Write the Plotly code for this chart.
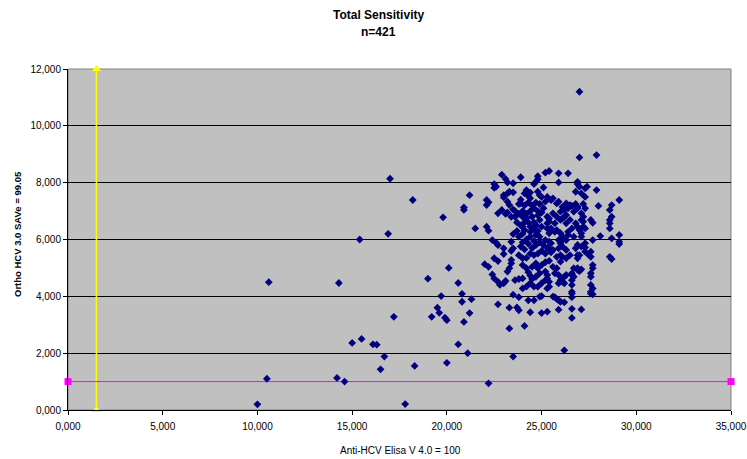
import plotly.graph_objects as go

# ---- data (x: Anti-HCV Elisa V 4.0, y: Ortho HCV 3.0 SAVe) ----
outliers = [
    (10.0, 0.2), (10.5, 1.1), (10.6, 4.5), (14.2, 1.13), (14.3, 4.47), (14.6, 1.0),
    (15.0, 2.36), (15.5, 2.5), (15.4, 6.0), (16.1, 2.31), (16.3, 2.3), (16.7, 1.88),
    (16.5, 1.43), (16.9, 6.2), (17.0, 8.14), (17.2, 3.28), (17.8, 0.21), (18.2, 7.39),
    (18.3, 1.55), (19.0, 4.62), (19.2, 3.28), (19.5, 3.6), (19.6, 3.42), (19.7, 4.01),
    (19.8, 6.78), (19.9, 3.25), (20.0, 3.16), (20.0, 1.66), (20.1, 5.0), (20.6, 4.47),
    (20.8, 4.09), (20.8, 3.81), (21.3, 3.9), (20.9, 3.1), (20.6, 2.31), (21.1, 2.0),
    (22.2, 0.94), (23.5, 1.88), (26.2, 2.1), (21.2, 7.56), (20.9, 7.13), (20.9, 7.04),
    (21.5, 6.39), (21.2, 3.41), (27.0, 11.2), (27.0, 8.89), (27.9, 8.97),
]

cluster_low = [
    (22.7, 3.72), (23.3, 3.6), (23.7, 3.61), (23.8, 3.51), (24.4, 3.44), (25.0, 3.41),
    (25.3, 3.46), (25.9, 3.53), (26.6, 3.56), (27.1, 3.54), (26.6, 3.24), (23.3, 2.87),
    (24.1, 2.96), (23.5, 4.06), (23.8, 3.97), (24.3, 3.86), (24.6, 3.86), (24.9, 3.99),
    (25.0, 4.01), (25.7, 3.97), (25.9, 3.86), (26.2, 3.79), (26.0, 3.81), (25.8, 3.91),
    (25.6, 3.99), (26.6, 4.1), (26.6, 3.97), (27.6, 4.1), (27.7, 4.07), (27.6, 4.16),
    (27.7, 4.28), (27.6, 4.4), (22.7, 4.51), (22.8, 4.40), (23.0, 4.46), (24.0, 4.28),
    (24.2, 4.34), (24.4, 4.46), (24.6, 4.34), (24.8, 4.34), (25.0, 4.46), (25.4, 4.34),
    (25.3, 4.28), (25.4, 4.51), (26.6, 4.4), (26.6, 4.16), (26.2, 4.46), (25.9, 4.46),
    (26.1, 4.51),
]

cluster_mid = [
    (22.4, 4.77), (22.5, 4.63), (23.1, 4.54), (23.2, 4.87), (23.3, 4.99), (23.4, 5.16),
    (23.4, 5.28), (23.6, 4.57), (23.8, 4.61), (24.0, 4.63), (24.0, 5.34), (24.0, 5.1),
    (24.2, 4.99), (24.3, 4.85), (24.4, 4.73), (24.5, 4.61), (25.2, 4.57), (25.3, 4.75),
    (25.2, 4.87), (24.9, 4.81), (24.7, 4.69), (24.8, 4.99), (25.0, 5.1), (24.7, 5.16),
    (24.5, 5.04), (25.3, 4.63), (25.6, 5.04), (25.8, 4.99), (25.7, 4.81), (25.9, 4.75),
    (26.0, 4.57), (26.2, 4.69), (26.3, 4.75), (26.6, 4.75), (26.6, 4.57), (26.1, 5.39),
    (26.3, 5.34), (26.0, 5.22), (26.9, 5.34), (26.9, 4.99), (26.9, 4.93), (27.0, 4.89),
    (26.7, 4.99), (26.6, 4.81), (26.7, 4.69), (27.6, 5.39), (27.7, 5.1), (27.7, 4.99),
    (27.6, 4.81), (27.6, 4.69), (28.6, 5.39), (28.7, 5.31), (27.1, 5.75), (27.3, 5.72),
    (27.0, 5.45), (27.5, 5.45), (27.6, 5.57), (27.1, 4.95), (22.0, 5.13), (22.2, 5.04),
    (22.5, 5.34), (22.7, 5.24), (22.1, 6.45), (22.2, 6.31), (22.4, 5.98), (22.6, 5.89),
    (22.7, 5.8), (23.5, 6.19), (23.4, 5.92), (23.5, 5.69), (23.4, 5.6), (23.0, 5.69),
    (23.0, 5.49), (23.8, 5.45), (29.1, 5.92), (29.1, 5.84), (28.7, 6.04), (29.1, 6.16),
    (27.7, 5.98), (27.3, 5.87), (28.1, 6.12),
]

cluster_high = [
    (22.9, 8.28), (23.1, 8.13), (23.2, 8.01), (23.5, 7.98), (23.9, 8.19), (24.8, 8.23),
    (25.2, 8.35), (24.7, 8.03), (24.6, 7.95), (22.5, 7.95), (22.6, 7.86), (22.1, 7.39),
    (22.2, 7.31), (23.0, 7.56), (23.3, 7.68), (23.5, 7.66), (22.9, 7.04), (22.7, 6.92),
    (23.1, 6.9), (23.5, 7.06), (23.9, 7.27), (24.1, 7.62), (24.3, 7.53), (24.4, 7.45),
    (24.8, 7.68), (25.0, 7.5), (25.2, 7.33), (22.1, 7.21), (22.5, 7.82), (23.0, 7.48),
    (23.2, 7.62), (23.2, 6.95), (23.4, 6.8), (23.2, 7.33), (23.3, 7.21), (23.8, 7.25),
    (24.2, 7.74), (24.4, 7.65), (24.8, 8.12), (25.4, 8.41), (25.9, 8.33), (25.9, 8.01),
    (26.4, 8.33), (26.9, 8.03), (26.9, 7.95), (27.0, 7.86), (27.3, 7.8), (27.1, 7.62),
    (27.3, 7.5), (26.8, 7.68), (27.9, 7.74), (25.1, 7.83), (24.9, 7.56), (25.3, 7.5),
    (25.6, 7.45), (25.9, 7.33), (26.1, 7.15), (26.3, 7.27), (26.4, 7.1), (26.6, 7.18),
    (26.8, 7.25), (26.9, 7.15), (27.2, 7.25), (27.3, 7.1), (28.0, 7.18), (29.1, 7.39),
    (28.7, 7.21), (28.6, 7.04), (28.7, 6.8), (28.6, 6.69), (28.6, 6.57), (28.6, 6.39),
    (27.4, 7.86), (27.1, 6.92), (27.2, 6.8), (27.2, 6.63), (27.3, 6.39), (27.6, 6.69),
    (27.7, 6.59), (27.1, 6.22), (26.9, 5.81), (26.8, 5.69), (27.3, 5.57), (27.1, 6.1),
    (27.0, 6.33), (27.2, 6.45), (27.1, 6.69),
]

cluster_core_right = [
    (25.6, 6.92), (26.0, 6.98), (26.2, 6.8), (26.5, 6.69), (26.3, 6.57), (26.0, 6.69),
    (25.7, 6.57), (25.4, 6.63), (25.3, 6.8), (24.9, 6.69), (24.7, 6.51), (25.0, 6.45),
    (25.3, 6.39), (25.4, 6.22), (25.7, 6.27), (26.0, 6.22), (26.1, 6.1), (26.4, 6.27),
    (26.6, 6.39), (26.8, 6.57), (26.9, 6.45), (26.7, 6.1), (26.3, 5.98), (26.0, 5.87),
    (25.5, 5.87), (25.2, 5.98), (24.9, 6.1), (24.7, 6.16), (24.4, 6.27), (24.1, 6.33),
    (24.0, 6.45), (25.5, 7.39), (25.8, 7.27), (26.5, 7.21), (26.9, 7.1), (26.7, 6.98),
    (26.2, 7.04), (26.3, 6.86), (26.1, 6.74), (25.8, 6.8), (25.4, 6.74), (25.3, 6.57),
    (25.5, 6.39), (25.8, 6.33), (26.4, 6.16), (26.1, 5.98), (25.9, 5.98), (25.4, 5.92),
    (25.4, 5.69), (25.6, 5.63), (25.9, 5.69), (26.1, 5.75), (26.3, 5.63), (26.5, 5.45),
    (26.0, 5.45), (25.8, 5.39), (26.9, 5.45),
]

cluster_core = [
    (23.6, 7.0), (23.8, 6.9), (24.0, 6.8), (24.2, 6.9), (24.4, 7.0), (24.6, 7.1),
    (24.8, 7.0), (24.5, 6.8), (24.3, 6.6), (24.1, 6.6), (23.9, 6.5), (23.7, 6.6),
    (24.6, 6.6), (24.8, 6.85), (25.0, 6.95), (25.1, 7.1), (24.9, 7.25), (24.7, 7.3),
    (24.5, 7.2), (24.3, 7.3), (24.1, 7.2), (23.9, 7.4), (24.0, 7.0), (24.2, 6.75),
    (24.4, 6.45), (24.6, 6.35), (24.8, 6.3), (23.7, 6.3), (23.8, 6.1), (24.0, 6.2),
    (24.2, 6.0), (24.4, 6.1), (24.6, 5.95), (23.6, 6.8), (24.0, 5.9), (24.3, 5.85),
    (23.9, 5.75), (24.1, 5.65), (24.5, 5.7), (24.7, 5.8), (24.9, 5.9), (25.1, 5.8),
    (25.3, 5.7), (25.0, 5.6), (24.8, 5.5), (24.6, 5.45), (24.4, 5.5), (24.2, 5.35),
    (25.2, 5.5), (25.5, 5.55), (25.4, 5.25), (25.2, 5.2),
]

cutoff_x = 1.5          # vertical (yellow) cut-off on Anti-HCV axis
cutoff_y = 1.0          # horizontal (magenta) cut-off on Ortho axis
x_range = [0, 35]
y_range = [0, 12]
x_ticks = [0, 5, 10, 15, 20, 25, 30, 35]
x_ticklabels = ["0,000", "5,000", "10,000", "15,000", "20,000", "25,000", "30,000", "35,000"]
y_ticks = [0, 2, 4, 6, 8, 10, 12]
y_ticklabels = ["0,000", "2,000", "4,000", "6,000", "8,000", "10,000", "12,000"]

all_points = outliers + cluster_low + cluster_mid + cluster_high + cluster_core_right + cluster_core
xs = [p[0] for p in all_points]
ys = [p[1] for p in all_points]

FONT = "Liberation Sans, Arial, sans-serif"

fig = go.Figure()

fig.add_trace(go.Scatter(
    x=[cutoff_x, cutoff_x], y=y_range, mode="lines+markers",
    line=dict(color="#FFFF00", width=1.5),
    marker=dict(symbol="triangle-up", size=8, color="#FFFF00"),
    cliponaxis=False, showlegend=False, hoverinfo="skip"))

fig.add_trace(go.Scatter(
    x=x_range, y=[cutoff_y, cutoff_y], mode="lines+markers",
    line=dict(color="#FF00FF", width=1),
    marker=dict(symbol="square", size=7, color="#FF00FF"),
    cliponaxis=False, showlegend=False, hoverinfo="skip"))

fig.add_trace(go.Scatter(
    x=xs, y=ys, mode="markers",
    marker=dict(symbol="diamond", size=6, color="#000080", line=dict(width=0)),
    showlegend=False))

fig.update_layout(
    width=747, height=459,
    margin=dict(l=68, r=16, t=69, b=49, autoexpand=False),
    paper_bgcolor="white", plot_bgcolor="#C0C0C0",
    font=dict(family=FONT, size=10, color="black"),
    shapes=[dict(type="rect", xref="paper", yref="paper", x0=0, x1=1, y0=0, y1=1,
                 line=dict(color="#808080", width=1), layer="below")],
    annotations=[
        dict(text="<b>Total Sensitivity</b>", xref="paper", yref="paper",
             x=0.469, y=(410 - 15) / 341, xanchor="center", yanchor="middle",
             showarrow=False, font=dict(size=12, family=FONT)),
        dict(text="<b>n=421</b>", xref="paper", yref="paper",
             x=0.469, y=(410 - 32) / 341, xanchor="center", yanchor="middle",
             showarrow=False, font=dict(size=12, family=FONT)),
        dict(text="Anti-HCV Elisa V 4.0 = 100", xref="paper", yref="paper",
             x=0.502, y=(410 - 451) / 341, xanchor="center", yanchor="middle",
             showarrow=False, font=dict(size=10, family=FONT)),
        dict(text="<b>Ortho HCV 3.0 SAVe = 99.05</b>", xref="paper", yref="paper",
             x=(17 - 68) / 663, y=(410 - 234) / 341, xanchor="center", yanchor="middle",
             textangle=-90, showarrow=False, font=dict(size=9.5, family=FONT)),
    ],
)

fig.update_xaxes(
    range=x_range, tickvals=x_ticks, ticktext=x_ticklabels, automargin=False,
    showgrid=False, zeroline=False,
    showline=True, linecolor="black", linewidth=1,
    ticks="outside", ticklen=4, tickcolor="black", ticklabelstandoff=3,
    tickfont=dict(size=10, family=FONT))

fig.update_yaxes(
    range=y_range, tickvals=y_ticks, ticktext=y_ticklabels, automargin=False,
    showgrid=True, gridcolor="black", gridwidth=1, zeroline=False,
    showline=True, linecolor="black", linewidth=1,
    ticks="outside", ticklen=4, tickcolor="black",
    tickfont=dict(size=10, family=FONT))

fig.write_html(
    "out.html",
    config={"displayModeBar": False},
    post_script="document.body.style.margin='0';document.body.style.padding='0';document.body.style.overflow='hidden';",
)
